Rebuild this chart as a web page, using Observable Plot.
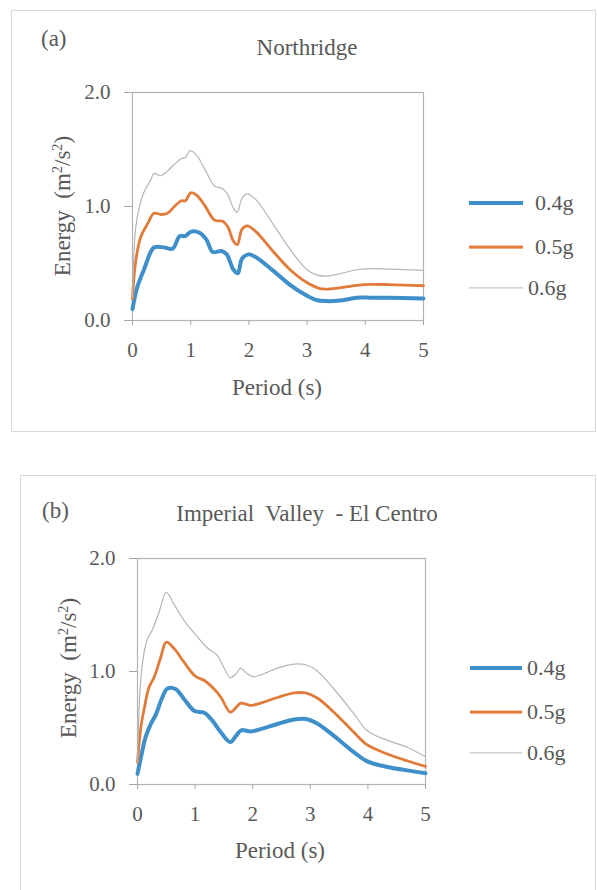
<!DOCTYPE html>
<html><head><meta charset="utf-8">
<script src="https://cdn.jsdelivr.net/npm/d3@7"></script>
<script src="https://cdn.jsdelivr.net/npm/@observablehq/plot@0.6"></script>
<style>
html,body{margin:0;padding:0;background:#fff;}
#page{position:relative;width:597px;height:890px;overflow:hidden;font-family:"Liberation Serif","Times New Roman",serif;color:#595959;}
.box{position:absolute;border:1px solid #d9d9d9;box-sizing:border-box;}
.t{position:absolute;transform:translate(-50%,-50%);line-height:1;white-space:pre;}
.lab{position:absolute;transform:translateY(-50%);line-height:1;white-space:pre;font-size:22px;}
.sw{position:absolute;transform:translateY(-50%);}
.chart{position:absolute;left:0;}
.chart svg{display:block;}
.yt{position:absolute;transform:translate(-50%,-50%) rotate(-90deg);line-height:1;white-space:pre;font-size:23px;}
sup{font-size:0.62em;vertical-align:0.5em;line-height:0;}
</style></head>
<body><div id="page"></div>
<script>
// ---------- data ----------
const xTicks = [0, 1, 2, 3, 4, 5];
const yTicks = [0, 1, 2];
const seriesNames = ["0.4g", "0.5g", "0.6g"];
const seriesColors = ["#3f8fca", "#e07b39", "#b3b5b9"];
const seriesWidths = [4, 2.8, 1.2];

// Northridge (a): [period, energy]
const northridge04 = [[0,0.10],[0.08,0.29],[0.2,0.45],[0.37,0.64],[0.55,0.64],[0.69,0.63],[0.81,0.74],[0.9,0.74],[1.01,0.78],[1.15,0.77],[1.27,0.71],[1.38,0.60],[1.53,0.61],[1.62,0.58],[1.73,0.45],[1.81,0.415],[1.88,0.54],[1.99,0.58],[2.12,0.555],[2.41,0.44],[2.70,0.315],[2.99,0.22],[3.16,0.18],[3.33,0.17],[3.56,0.175],[3.85,0.20],[4.08,0.20],[4.42,0.20],[5,0.193]];
const northridge05 = [[0,0.19],[0.05,0.50],[0.14,0.73],[0.26,0.85],[0.37,0.94],[0.49,0.93],[0.6,0.94],[0.72,1.0],[0.84,1.05],[0.91,1.05],[1.0,1.12],[1.1,1.10],[1.24,1.01],[1.41,0.88],[1.55,0.87],[1.64,0.82],[1.73,0.70],[1.8,0.665],[1.88,0.80],[1.97,0.83],[2.12,0.78],[2.41,0.61],[2.70,0.45],[2.99,0.335],[3.22,0.28],[3.45,0.28],[3.74,0.30],[3.97,0.315],[4.42,0.315],[5,0.305]];
const northridge06 = [[0,0.2],[0.05,0.79],[0.11,0.98],[0.2,1.13],[0.31,1.23],[0.37,1.29],[0.49,1.27],[0.6,1.31],[0.72,1.37],[0.84,1.42],[0.91,1.43],[0.99,1.49],[1.1,1.45],[1.24,1.33],[1.41,1.18],[1.55,1.155],[1.64,1.10],[1.74,0.98],[1.8,0.95],[1.88,1.07],[1.97,1.11],[2.12,1.06],[2.41,0.85],[2.70,0.63],[2.99,0.45],[3.16,0.40],[3.33,0.39],[3.56,0.41],[3.85,0.445],[4.08,0.455],[4.42,0.45],[5,0.44]];

// Imperial Valley - El Centro (b): [period, energy]
const centro04 = [[0,0.094],[0.06,0.24],[0.14,0.42],[0.23,0.535],[0.32,0.62],[0.43,0.77],[0.52,0.85],[0.66,0.845],[0.81,0.755],[0.99,0.65],[1.16,0.635],[1.3,0.565],[1.45,0.46],[1.61,0.375],[1.71,0.43],[1.80,0.48],[1.97,0.47],[2.14,0.49],[2.43,0.535],[2.72,0.575],[2.92,0.58],[3.12,0.54],[3.41,0.43],[3.76,0.285],[3.99,0.205],[4.34,0.155],[4.68,0.125],[5,0.10]];
const centro05 = [[0,0.197],[0.06,0.51],[0.12,0.68],[0.2,0.86],[0.29,0.95],[0.4,1.12],[0.5,1.26],[0.64,1.20],[0.81,1.08],[1.0,0.96],[1.16,0.92],[1.33,0.845],[1.45,0.77],[1.61,0.64],[1.71,0.68],[1.79,0.72],[1.97,0.70],[2.14,0.72],[2.43,0.77],[2.72,0.81],[2.92,0.81],[3.12,0.765],[3.41,0.64],[3.76,0.46],[3.99,0.35],[4.34,0.27],[4.68,0.21],[5,0.16]];
const centro06 = [[0,0.2],[0.04,0.8],[0.09,1.09],[0.17,1.285],[0.26,1.37],[0.38,1.535],[0.5,1.70],[0.64,1.59],[0.81,1.45],[1.0,1.33],[1.21,1.21],[1.39,1.14],[1.5,1.035],[1.61,0.945],[1.71,0.98],[1.79,1.03],[1.88,0.99],[2.0,0.955],[2.14,0.97],[2.43,1.03],[2.72,1.065],[2.92,1.06],[3.12,1.005],[3.41,0.845],[3.76,0.625],[3.99,0.475],[4.34,0.39],[4.68,0.33],[5,0.245]];

// ---------- layout ----------
const page = document.getElementById("page");
function el(cls, css, html) {
  const d = document.createElement("div");
  d.className = cls;
  Object.assign(d.style, css);
  d.innerHTML = html;
  page.appendChild(d);
  return d;
}

function makePlot(seriesData, m) {
  const lines = seriesData.map((pts, i) =>
    Plot.line(pts, {x: d => d[0], y: d => d[1], stroke: seriesColors[i], strokeWidth: seriesWidths[i], curve: "catmull-rom", strokeLinejoin: "round"}));
  return Plot.plot({
    width: 597, height: 400,
    marginLeft: m.ml, marginRight: m.mr, marginTop: m.mt, marginBottom: m.mb,
    style: {fontFamily: '"Liberation Serif","Times New Roman",serif', fontSize: "21px", color: "#595959", background: "transparent", overflow: "visible"},
    x: {domain: [0, 5]},
    y: {domain: [0, 2]},
    marks: [
      Plot.frame({stroke: "#b3b3b3", strokeWidth: 1.2}),
      Plot.axisX({ticks: xTicks, tickSize: 5, tickPadding: 17, label: null, stroke: "#a6a6a6", tickFormat: d => String(d)}),
      Plot.axisY({ticks: yTicks, tickSize: 8, tickPadding: 14, label: null, stroke: "#a6a6a6", tickFormat: d3.format(".1f")}),
      ...lines
    ]
  });
}

function panel(cfg) {
  el("box", {left: cfg.box[0] + "px", top: cfg.box[1] + "px", width: cfg.box[2] + "px", height: cfg.box[3] + "px"}, "");
  const c = el("chart", {top: cfg.top + "px"}, "");
  c.appendChild(makePlot(cfg.data, cfg.m));
  el("t", {left: cfg.tag[0] + "px", top: cfg.tag[1] + "px", fontSize: "23px", transform: "translate(0,-50%)"}, cfg.tagText);
  el("t", {left: cfg.title[0] + "px", top: cfg.title[1] + "px", fontSize: "23px"}, cfg.titleText);
  el("t", {left: cfg.xl[0] + "px", top: cfg.xl[1] + "px", fontSize: "23px"}, "Period (s)");
  el("yt", {left: cfg.yl[0] + "px", top: cfg.yl[1] + "px"}, "Energy  (m<sup>2</sup>/s<sup>2</sup>)");
  seriesNames.forEach((name, i) => {
    el("sw", {left: cfg.leg.x0 + "px", top: cfg.leg.ys[i] + "px", width: (cfg.leg.x1 - cfg.leg.x0) + "px",
      height: seriesWidths[i] + "px", background: seriesColors[i]}, "");
    el("lab", {left: cfg.leg.lx[i] + "px", top: cfg.leg.ys[i] + "px"}, name);
  });
}

panel({
  box: [11, 10, 585, 422], top: 0,
  m: {ml: 132, mr: 174, mt: 92, mb: 80},
  data: [northridge04, northridge05, northridge06],
  tag: [41, 38], tagText: "(a)",
  title: [307, 47], titleText: "Northridge",
  xl: [277, 387], yl: [62, 206],
  leg: {x0: 469, x1: 523, ys: [203, 247, 288], lx: [535, 535, 528]}
});
panel({
  box: [20, 475, 576, 440], top: 460,
  m: {ml: 137, mr: 172, mt: 98, mb: 76},
  data: [centro04, centro05, centro06],
  tag: [42, 510], tagText: "(b)",
  title: [307, 513], titleText: "Imperial  Valley  - El Centro",
  xl: [280, 850], yl: [68, 668],
  leg: {x0: 470, x1: 522, ys: [668, 712, 753], lx: [527, 527, 527]}
});
</script>
</body></html>
